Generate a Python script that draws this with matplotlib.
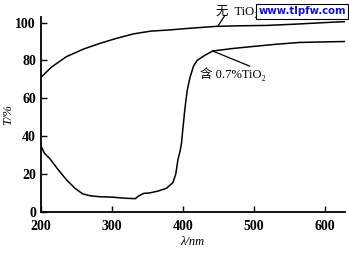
import numpy as np
import matplotlib.pyplot as plt

plt.rcParams['font.family'] = ['Liberation Serif', 'Noto Sans CJK SC', 'DejaVu Sans']

# wavelength (nm) and transmittance (%)
wl_no = [200, 215, 236, 260, 283, 305, 330, 355, 377, 410, 447, 480, 518, 560, 600, 628]
T_no = [71, 76.5, 82, 86, 89, 91.5, 94, 95.5, 96, 97, 98, 98.3, 98.5, 99.2, 100, 100.5]

wl_ti = [200, 205, 213, 224, 236, 248, 259, 270, 283, 300, 320, 333, 338, 345, 353,
         365, 377, 386, 390, 393, 396, 398, 400, 403, 406, 410, 415, 420, 430, 442,
         470, 494, 530, 564, 600, 628]
T_ti = [35, 31, 28, 22.5, 17, 12.5, 9.5, 8.5, 8, 7.8, 7.2, 7, 8.5, 9.8, 10,
        11, 12.5, 15.5, 20, 27.5, 32, 36, 44, 55, 64, 71, 77, 80, 82.5, 85,
        86.3, 87.2, 88.5, 89.5, 89.8, 90]

fig = plt.figure(figsize=(3.49, 2.60), dpi=100)
ax = fig.add_axes([0.117, 0.185, 0.871, 0.75])
ax.plot(wl_no, T_no, 'k-', lw=1.1)
ax.plot(wl_ti, T_ti, 'k-', lw=1.1)

ax.set_xlim(200, 628)
ax.set_ylim(0, 103)
ax.set_xticks([200, 300, 400, 500, 600])
ax.set_yticks([0, 20, 40, 60, 80, 100])
ax.spines['top'].set_visible(False)
ax.spines['right'].set_visible(False)
ax.spines['left'].set_linewidth(1.3)
ax.spines['bottom'].set_linewidth(1.3)
ax.tick_params(direction='in', length=4, width=1, labelsize=10)
ax.tick_params(axis='x', pad=6)
for lab in ax.get_xticklabels() + ax.get_yticklabels():
    lab.set_fontweight('bold')

ax.set_xlabel('λ/nm', fontsize=9, labelpad=2, style='italic')
ax.set_ylabel('T/%', fontsize=9, labelpad=1, style='italic')

# labels with leader lines
ax.plot([449, 459], [98, 103.7], 'k-', lw=0.9, clip_on=False)
ax.text(447, 106, '无  TiO₂', fontsize=9, va='center', ha='left')
ax.plot([442, 494], [85, 77], 'k-', lw=0.9)
ax.text(424, 72.5, '含 0.7%TiO₂', fontsize=9, va='center', ha='left')

fig.text(0.74, 0.975, 'www.tlpfw.com', color='#1010d0', fontsize=7.3,
         fontweight='bold', family='DejaVu Sans', va='top',
         bbox=dict(facecolor='white', edgecolor='black', boxstyle='square,pad=0.2', lw=0.8))

fig.savefig('out.png', dpi=100)
